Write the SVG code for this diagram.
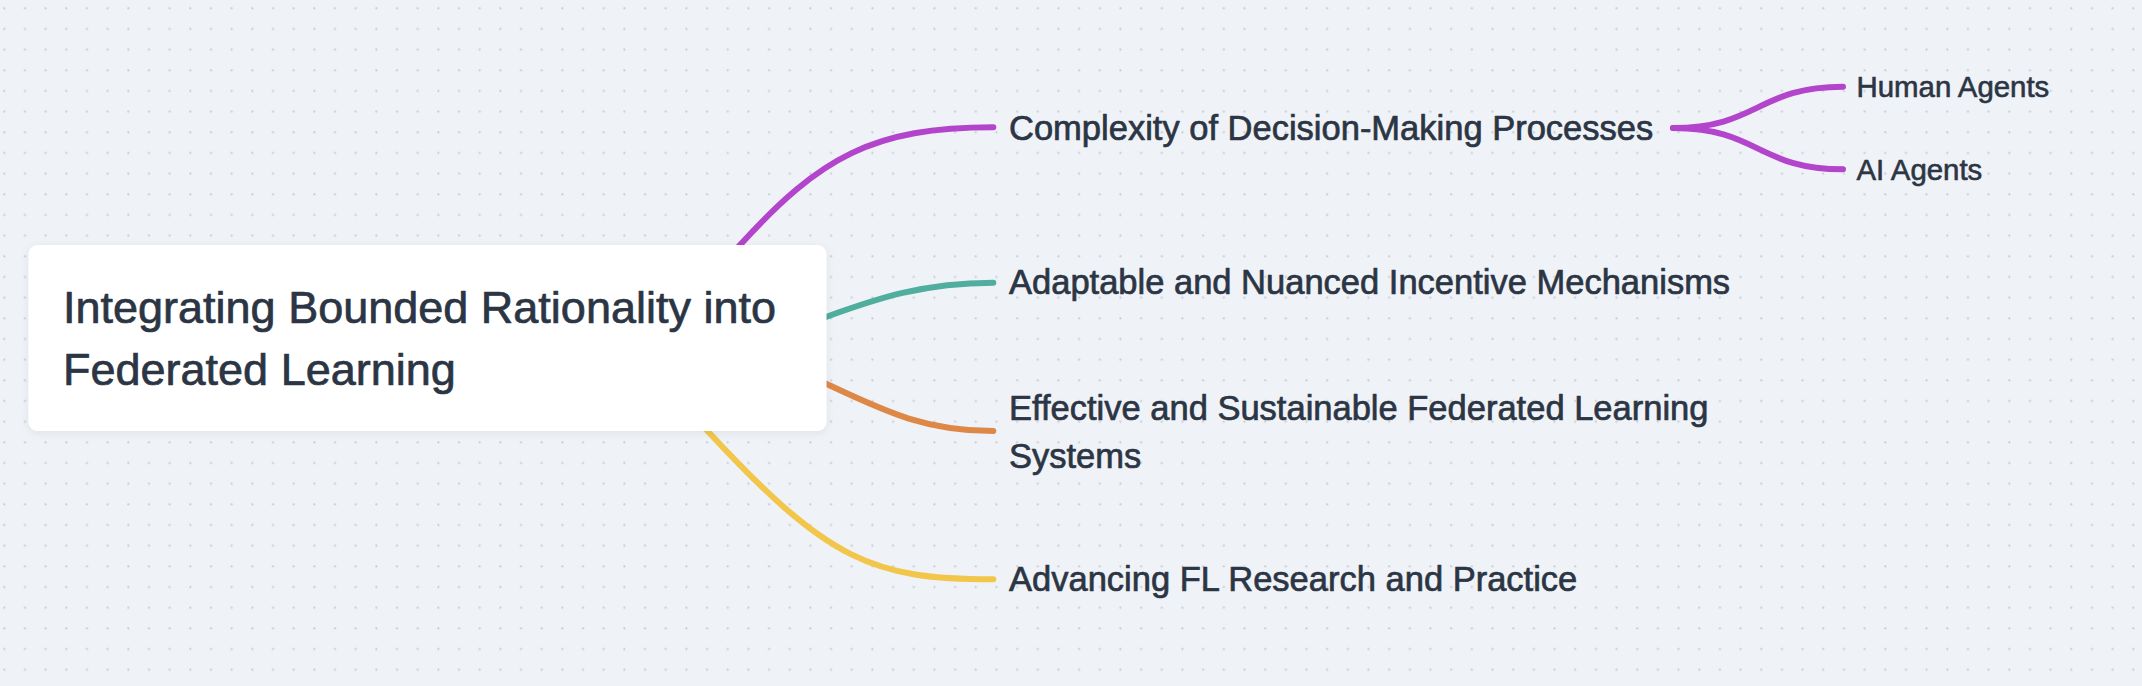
<svg xmlns="http://www.w3.org/2000/svg" width="2142" height="686" viewBox="0 0 2142 686">
  <defs>
    <pattern id="dots" patternUnits="userSpaceOnUse" x="0" y="0" width="20.67" height="20.67">
      <circle cx="4.3" cy="8.3" r="1.1" fill="#c6cbd4"/>
    </pattern>
    <filter id="shadow" x="-5%" y="-10%" width="110%" height="125%">
      <feDropShadow dx="0" dy="2" stdDeviation="4" flood-color="#1e293b" flood-opacity="0.07"/>
    </filter>
    <style>
      .bg { fill: #eff2f6; }
      .link { fill: none; stroke-width: 6; stroke-linecap: round; stroke-linejoin: round; }
      .purple { stroke: #b344cc; }
      .teal { stroke: #4fae9d; }
      .orange { stroke: #de8848; }
      .yellow { stroke: #f1c64b; }
      .label { font-family: "Liberation Sans", Arial, sans-serif; fill: #2b3544; stroke: #2b3544; stroke-width: 0.7px; paint-order: stroke; stroke-linejoin: round; }
      .root-text { font-size: 45px; }
      .topic { font-size: 34.5px; }
      .sub { font-size: 29.4px; stroke-width: 0.6px; }
      .card { fill: #ffffff; }
    </style>
  </defs>

  <rect class="bg" x="0" y="0" width="2142" height="686"/>
  <rect x="0" y="0" width="2142" height="686" fill="url(#dots)"/>

  <g id="connectors">
    <path class="link purple" d="M 720 267 L 740 245 C 820 157, 873.3 127.3, 993.3 127.3"/>
    <path class="link teal" d="M 798.5 326.9 L 826.7 316.7 C 876.7 298.7, 923.3 282.7, 993.3 282.7"/>
    <path class="link orange" d="M 799.5 371.4 L 826.7 384 C 881.7 409.6, 923.3 431, 993.3 431"/>
    <path class="link yellow" d="M 688.3 410 L 708.3 431.7 C 828.3 561.3, 873.3 579.3, 993.3 579.3"/>
    <path class="link purple" d="M 1673 128 C 1758 128, 1758 86.7, 1843 86.7"/>
    <path class="link purple" d="M 1673 128 C 1758 128, 1758 169.3, 1843 169.3"/>
  </g>

  <g id="root">
    <rect class="card" x="28.5" y="245" width="798" height="186" rx="9" ry="9" filter="url(#shadow)"/>
    <text class="label root-text" x="63" y="322.5">Integrating Bounded Rationality into</text>
    <text class="label root-text" x="63" y="384.5">Federated Learning</text>
  </g>

  <g id="node-complexity">
    <text class="label topic" x="1009" y="140">Complexity of Decision-Making Processes</text>
  </g>

  <g id="node-adaptable">
    <text class="label topic" x="1009" y="294">Adaptable and Nuanced Incentive Mechanisms</text>
  </g>

  <g id="node-effective">
    <text class="label topic" x="1009" y="420">Effective and Sustainable Federated Learning</text>
    <text class="label topic" x="1009" y="467.5">Systems</text>
  </g>

  <g id="node-advancing">
    <text class="label topic" x="1009" y="591">Advancing FL Research and Practice</text>
  </g>

  <g id="node-human">
    <text class="label sub" x="1856.5" y="97.3">Human Agents</text>
  </g>

  <g id="node-ai">
    <text class="label sub" x="1856.5" y="180">AI Agents</text>
  </g>
</svg>
